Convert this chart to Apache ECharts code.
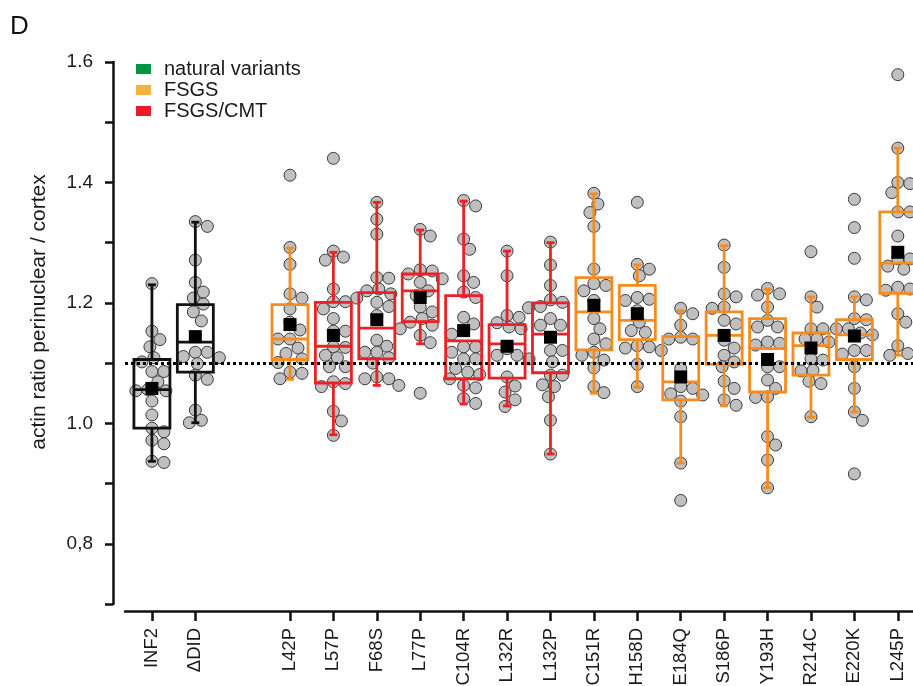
<!DOCTYPE html>
<html>
<head>
<meta charset="utf-8">
<script src="https://cdn.jsdelivr.net/npm/echarts@6/dist/echarts.min.js"></script>
<style>
  html, body { margin: 0; padding: 0; background: #fff; }
  #chart { width: 913px; height: 686px; }
</style>
</head>
<body>
<div id="chart"></div>
<script>
// categories along the x axis
var categories = ['INF2', 'ΔDID', 'L42P', 'L57P', 'F68S', 'L77P', 'C104R', 'L132R', 'L132P',
  'C151R', 'H158D', 'E184Q', 'S186P', 'Y193H', 'R214C', 'E220K', 'L245P'];
// which group each category belongs to (colour of the box)
var groups = ['wt', 'wt', 'FSGS', 'FSGS/CMT', 'FSGS/CMT', 'FSGS/CMT', 'FSGS/CMT', 'FSGS/CMT', 'FSGS/CMT',
  'FSGS', 'FSGS', 'FSGS', 'FSGS', 'FSGS', 'FSGS', 'FSGS', 'FSGS'];
var legendNames = ['natural variants', 'FSGS', 'FSGS/CMT'];
var yTickLabels = ['0,8', '1.0', '1.2', '1.4', '1.6'];

// [whisker low, q1, median, q3, whisker high]
var boxStats = [
  [0.937, 0.992, 1.056, 1.106, 1.230],
  [1.001, 1.085, 1.135, 1.197, 1.334],
  [1.073, 1.106, 1.140, 1.197, 1.291],
  [0.981, 1.067, 1.128, 1.201, 1.284],
  [1.063, 1.107, 1.158, 1.217, 1.367],
  [1.132, 1.169, 1.220, 1.248, 1.321],
  [1.032, 1.074, 1.137, 1.212, 1.369],
  [1.029, 1.075, 1.132, 1.164, 1.286],
  [0.949, 1.084, 1.148, 1.200, 1.300],
  [1.050, 1.122, 1.185, 1.242, 1.381],
  [1.060, 1.139, 1.171, 1.229, 1.263],
  [0.934, 1.039, 1.069, 1.144, 1.187],
  [1.029, 1.098, 1.146, 1.185, 1.295],
  [0.893, 1.052, 1.124, 1.174, 1.223],
  [1.010, 1.080, 1.129, 1.150, 1.210],
  [1.019, 1.106, 1.147, 1.172, 1.210],
  [1.113, 1.216, 1.266, 1.351, 1.457]
];
var means = [1.058, 1.144, 1.164, 1.146, 1.172, 1.209, 1.154, 1.128, 1.143, 1.196, 1.182,
  1.077, 1.146, 1.106, 1.125, 1.145, 1.284];

// single measurements per category
var points = [
  [1.232, 1.153, 1.139, 1.127, 1.109, 1.102, 1.086, 1.086, 1.069, 1.054, 1.054, 1.056, 1.037, 1.014, 0.992, 0.986, 0.972, 0.966, 0.937, 0.935],
  [1.335, 1.327, 1.271, 1.234, 1.218, 1.208, 1.198, 1.185, 1.170, 1.118, 1.118, 1.109, 1.111, 1.099, 1.080, 1.073, 1.022, 1.005, 1.001],
  [1.412, 1.292, 1.264, 1.215, 1.208, 1.190, 1.168, 1.155, 1.140, 1.140, 1.125, 1.116, 1.107, 1.101, 1.085, 1.083, 1.074],
  [1.440, 1.286, 1.276, 1.271, 1.223, 1.202, 1.202, 1.190, 1.174, 1.153, 1.153, 1.127, 1.126, 1.113, 1.109, 1.094, 1.094, 1.069, 1.066, 1.061, 1.020, 1.004, 0.980],
  [1.367, 1.339, 1.314, 1.242, 1.241, 1.223, 1.220, 1.215, 1.208, 1.201, 1.194, 1.179, 1.138, 1.128, 1.118, 1.118, 1.109, 1.100, 1.077, 1.074, 1.074, 1.063],
  [1.322, 1.311, 1.253, 1.255, 1.248, 1.240, 1.234, 1.220, 1.212, 1.193, 1.185, 1.174, 1.168, 1.163, 1.157, 1.146, 1.134, 1.050],
  [1.370, 1.361, 1.306, 1.289, 1.245, 1.234, 1.218, 1.209, 1.176, 1.165, 1.154, 1.148, 1.127, 1.127, 1.118, 1.107, 1.107, 1.091, 1.085, 1.081, 1.074, 1.063, 1.059, 1.041, 1.033],
  [1.286, 1.245, 1.179, 1.176, 1.157, 1.167, 1.160, 1.124, 1.113, 1.113, 1.107, 1.077, 1.062, 1.052, 1.039, 1.028],
  [1.301, 1.263, 1.229, 1.201, 1.194, 1.192, 1.205, 1.174, 1.163, 1.163, 1.121, 1.121, 1.102, 1.080, 1.080, 1.064, 1.061, 1.044, 1.005, 0.949],
  [1.382, 1.364, 1.350, 1.327, 1.256, 1.229, 1.232, 1.220, 1.204, 1.174, 1.157, 1.140, 1.132, 1.118, 1.113, 1.105, 1.092, 1.061, 1.051],
  [1.367, 1.264, 1.256, 1.245, 1.209, 1.204, 1.206, 1.187, 1.168, 1.154, 1.151, 1.127, 1.129, 1.125, 1.121, 1.098, 1.061],
  [1.191, 1.182, 1.163, 1.140, 1.143, 1.140, 1.091, 1.061, 1.058, 1.047, 1.049, 1.037, 1.011, 0.934, 0.872],
  [1.296, 1.259, 1.215, 1.210, 1.193, 1.191, 1.171, 1.165, 1.138, 1.125, 1.113, 1.102, 1.094, 1.070, 1.058, 1.039, 1.030],
  [1.224, 1.213, 1.215, 1.193, 1.171, 1.160, 1.160, 1.135, 1.130, 1.133, 1.094, 1.094, 1.072, 1.058, 1.044, 1.043, 0.978, 0.964, 0.939, 0.893],
  [1.285, 1.210, 1.193, 1.157, 1.157, 1.140, 1.140, 1.135, 1.107, 1.105, 1.088, 1.087, 1.066, 1.070, 1.011],
  [1.372, 1.325, 1.274, 1.210, 1.205, 1.174, 1.172, 1.157, 1.157, 1.150, 1.147, 1.121, 1.121, 1.115, 1.094, 1.058, 1.019, 1.005, 0.916],
  [1.579, 1.457, 1.400, 1.398, 1.383, 1.351, 1.351, 1.311, 1.273, 1.273, 1.261, 1.256, 1.223, 1.226, 1.221, 1.182, 1.168, 1.116, 1.129, 1.113]
];

var refLine = 1.1;

// ---- layout ----
var FONT = 'Liberation Sans, Arial, Helvetica, sans-serif';
var TEXT = '#1a1a1a';
var colors = { 'natural variants': '#009444', 'FSGS': '#fbb040', 'FSGS/CMT': '#ed1c24' };
var boxColors = { 'wt': '#111111', 'FSGS': '#f68b1f', 'FSGS/CMT': '#ec2027' };
var GAP = 1.18;           // extra space between the controls and the variants
var xMin = -0.62, xMax = 17.53;
var gridL = 125, gridR = 0, gridT = 62, gridB = 82;
var pxX = (913 - gridL - gridR) / (xMax - xMin);
var pxY = (686 - gridT - gridB) / 0.9;

var xPos = categories.map(function (c, i) { return i + (i >= 2 ? GAP : 0); });

// simple beeswarm placement so the dots do not sit on top of each other
function swarm(vals, xc) {
  var placed = [], out = [];
  vals.slice().sort(function (a, b) { return b - a; }).forEach(function (v) {
    for (var k = 0; k < 60; k++) {
      var off = (k % 2 ? 1 : -1) * Math.ceil(k / 2) * 2;
      var ok = placed.every(function (p) {
        return Math.hypot(p[0] - off, (p[1] - v) * pxY) >= 11.5;
      });
      if (ok) { placed.push([off, v]); out.push([xc + off / pxX, v]); break; }
    }
  });
  return out;
}

var dotData = [];
points.forEach(function (vals, i) { dotData = dotData.concat(swarm(vals, xPos[i])); });

var boxData = boxStats.map(function (s, i) { return [xPos[i]].concat(s); });
var meanData = means.map(function (m, i) { return [xPos[i], m]; });

function renderBox(params, api) {
  var x = api.value(0);
  var lo = api.coord([x, api.value(1)]);
  var q1 = api.coord([x, api.value(2)]);
  var md = api.coord([x, api.value(3)]);
  var q3 = api.coord([x, api.value(4)]);
  var hi = api.coord([x, api.value(5)]);
  var c = boxColors[groups[params.dataIndex]];
  var hw = 18, cw = 4;
  var st = { stroke: c, lineWidth: 2.8, fill: 'none' };
  return {
    type: 'group',
    children: [
      { type: 'line', shape: { x1: hi[0], y1: hi[1], x2: q3[0], y2: q3[1] }, style: st },
      { type: 'line', shape: { x1: q1[0], y1: q1[1], x2: lo[0], y2: lo[1] }, style: st },
      { type: 'line', shape: { x1: hi[0] - cw, y1: hi[1], x2: hi[0] + cw, y2: hi[1] }, style: st },
      { type: 'line', shape: { x1: lo[0] - cw, y1: lo[1], x2: lo[0] + cw, y2: lo[1] }, style: st },
      { type: 'rect', shape: { x: q3[0] - hw, y: q3[1], width: hw * 2, height: q1[1] - q3[1] }, style: st },
      { type: 'line', shape: { x1: md[0] - hw, y1: md[1], x2: md[0] + hw, y2: md[1] }, style: st }
    ]
  };
}

var myChart = echarts.init(document.getElementById('chart'), null, { renderer: 'canvas' });

var option = {
  animation: false,
  backgroundColor: '#fff',
  textStyle: { fontFamily: FONT },
  grid: { left: gridL, right: gridR, top: gridT, bottom: gridB, containLabel: false, outerBoundsMode: 'none' },
  legend: {
    orient: 'vertical',
    left: 136,
    top: 59,
    padding: 0,
    icon: 'rect',
    itemWidth: 15,
    itemHeight: 10,
    itemGap: 1,
    selectedMode: false,
    data: legendNames,
    textStyle: { fontSize: 20, lineHeight: 20, color: TEXT, fontFamily: FONT, padding: [0, 0, 0, 8] }
  },
  graphic: [
    { type: 'text', left: 10, top: 14, style: { text: 'D', font: '26px ' + FONT, fill: '#111' } },
    {
      type: 'text', x: 39, y: 312, rotation: Math.PI / 2,
      style: { text: 'actin ratio perinuclear / cortex', font: '21px ' + FONT, fill: TEXT, align: 'center', verticalAlign: 'middle' }
    }
  ],
  xAxis: {
    type: 'value',
    min: xMin,
    max: xMax,
    offset: 7,
    splitLine: { show: false },
    axisLine: { onZero: false, lineStyle: { color: '#111', width: 2.5 } },
    axisTick: { customValues: xPos, length: 10, lineStyle: { color: '#111', width: 2.5 } },
    axisLabel: {
      customValues: xPos,
      rotate: 90,
      margin: 17,
      fontSize: 18.5,
      color: TEXT,
      fontFamily: FONT,
      formatter: function (v) {
        var best = 0;
        xPos.forEach(function (p, i) { if (Math.abs(p - v) < Math.abs(xPos[best] - v)) best = i; });
        return categories[best];
      }
    }
  },
  yAxis: {
    type: 'value',
    min: 0.7,
    max: 1.6,
    interval: 0.1,
    offset: 12,
    splitLine: { show: false },
    axisLine: { show: true, onZero: false, lineStyle: { color: '#111', width: 2.5 } },
    axisTick: { show: true, length: 8, lineStyle: { color: '#111', width: 2.5 } },
    axisLabel: {
      margin: 20,
      fontSize: 19,
      color: TEXT,
      fontFamily: FONT,
      formatter: function (v) {
        var k = Math.round(v * 10);
        if (k % 2 === 1 || k < 8) return '';
        return yTickLabels[(k - 8) / 2];
      }
    }
  },
  series: [
    { name: 'natural variants', type: 'scatter', data: [], itemStyle: { color: colors['natural variants'], opacity: 1 } },
    { name: 'FSGS', type: 'scatter', data: [], itemStyle: { color: colors['FSGS'], opacity: 1 } },
    { name: 'FSGS/CMT', type: 'scatter', data: [], itemStyle: { color: colors['FSGS/CMT'], opacity: 1 } },
    {
      name: 'values',
      type: 'scatter',
      z: 2,
      symbolSize: 12,
      data: dotData,
      itemStyle: { color: '#c0c0c0', borderColor: '#3a3a3a', borderWidth: 1, opacity: 1 }
    },
    {
      name: 'ref',
      type: 'line',
      z: 3,
      data: [],
      markLine: {
        silent: true,
        symbol: 'none',
        label: { show: false },
        lineStyle: { color: '#000', width: 3, type: [3, 3] },
        data: [{ yAxis: refLine }]
      }
    },
    {
      name: 'boxes',
      type: 'custom',
      z: 4,
      renderItem: renderBox,
      data: boxData
    },
    {
      name: 'mean',
      type: 'scatter',
      z: 5,
      symbol: 'rect',
      symbolSize: 13,
      data: meanData,
      itemStyle: { color: '#000', opacity: 1 }
    }
  ]
};

myChart.setOption(option);
window.addEventListener('resize', function () { myChart.resize(); });
</script>
</body>
</html>
